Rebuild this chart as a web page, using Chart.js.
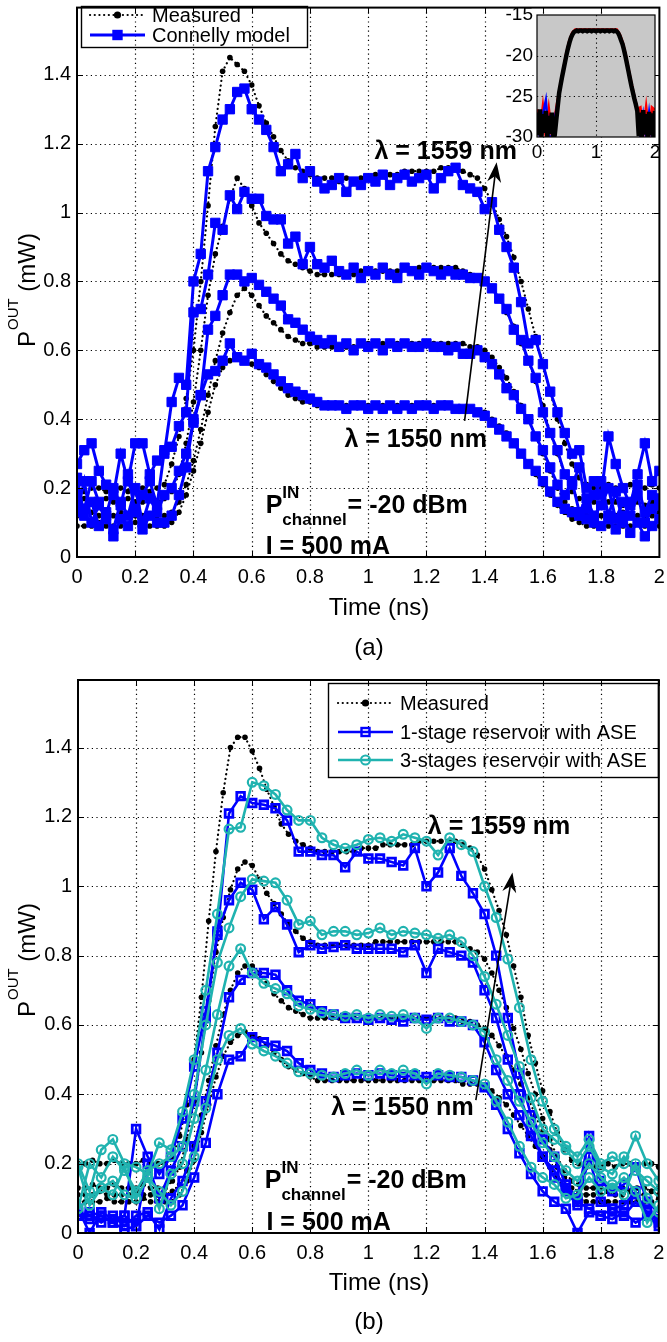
<!DOCTYPE html>
<html lang="en">
<head>
<meta charset="utf-8">
<title>Output power transients: measured vs. models</title>
<script src="https://cdn.jsdelivr.net/npm/chart.js@4.4.1/dist/chart.umd.min.js"></script>
<style>
  html, body { margin: 0; padding: 0; background: #fff; }
  #page { position: relative; width: 667px; height: 1342px; overflow: hidden; background: #fff; }
  #page canvas { position: absolute; }
</style>
</head>
<body>
<div id="page">
  <canvas id="panelA" width="667" height="665" style="left:0;top:0;"></canvas>
  <canvas id="inset" width="167" height="168" style="left:500px;top:0;"></canvas>
  <canvas id="panelB" width="667" height="677" style="left:0;top:665px;"></canvas>
</div>
<script>
const FONT = '"Liberation Sans", Arial, Helvetica, sans-serif';
Chart.defaults.font.family = FONT;
Chart.defaults.color = '#000';

// ---- axis ticks ----
const xTicks = [0, 0.2, 0.4, 0.6, 0.8, 1, 1.2, 1.4, 1.6, 1.8, 2];
const yTicks = [0, 0.2, 0.4, 0.6, 0.8, 1, 1.2, 1.4];
const insetXTicks = [0, 1, 2];
const insetYTicks = [-30, -25, -20, -15];
const Y_MAX = 1.595;

// ---- sampling times (ns) ----
const tA = [0,0.025,0.05,0.075,0.1,0.125,0.15,0.175,0.2,0.225,0.25,0.275,
  0.3,0.325,0.35,0.375,0.4,0.425,0.45,0.475,0.5,0.525,0.55,0.575,
  0.6,0.625,0.65,0.675,0.7,0.725,0.75,0.775,0.8,0.825,0.85,0.875,
  0.9,0.925,0.95,0.975,1,1.025,1.05,1.075,1.1,1.125,1.15,1.175,
  1.2,1.225,1.25,1.275,1.3,1.325,1.35,1.375,1.4,1.425,1.45,1.475,
  1.5,1.525,1.55,1.575,1.6,1.625,1.65,1.675,1.7,1.725,1.75,1.775,
  1.8,1.825,1.85,1.875,1.9,1.925,1.95,1.975,2];
const tB = [0,0.04,0.08,0.12,0.16,0.2,0.24,0.28,0.32,0.36,
  0.4,0.44,0.48,0.52,0.56,0.6,0.64,0.68,0.72,0.76,
  0.8,0.84,0.88,0.92,0.96,1,1.04,1.08,1.12,1.16,
  1.2,1.24,1.28,1.32,1.36,1.4,1.44,1.48,1.52,1.56,
  1.6,1.64,1.68,1.72,1.76,1.8,1.84,1.88,1.92,1.96,2];
const insetTime = [0,0.05,0.1,0.15,0.2,0.25,0.3,0.35,0.4,0.45,
  0.5,0.55,0.6,0.65,0.7,0.75,0.8,0.85,0.9,0.95,
  1,1.05,1.1,1.15,1.2,1.25,1.3,1.35,1.4,1.45,
  1.5,1.55,1.6,1.65,1.7,1.75,1.8,1.85,1.9,1.95,2];

// ---- panel (a): measured output power (mW) ----
const measA_1559 = [0.20,0.19,0.20,0.20,0.19,0.20,0.20,0.19,0.20,0.20,0.19,0.20,
  0.21,0.27,0.35,0.46,0.60,0.80,1.02,1.25,1.41,1.45,1.43,1.41,
  1.37,1.31,1.26,1.22,1.18,1.15,1.13,1.12,1.11,1.10,1.10,1.10,
  1.09,1.10,1.09,1.10,1.10,1.11,1.11,1.11,1.11,1.12,1.12,1.12,
  1.12,1.12,1.13,1.13,1.13,1.12,1.11,1.10,1.07,1.03,0.98,0.93,
  0.87,0.80,0.72,0.64,0.56,0.48,0.40,0.33,0.27,0.23,0.21,0.20,
  0.20,0.21,0.20,0.20,0.21,0.20,0.20,0.21,0.20];
const measA_1556 = [0.16,0.17,0.16,0.16,0.17,0.16,0.16,0.17,0.16,0.16,0.17,0.16,
  0.17,0.19,0.24,0.33,0.45,0.60,0.76,0.88,0.96,1.04,1.10,1.07,
  1.02,0.97,0.94,0.91,0.88,0.86,0.85,0.84,0.83,0.82,0.82,0.82,
  0.82,0.82,0.82,0.83,0.83,0.83,0.83,0.83,0.83,0.84,0.83,0.84,
  0.84,0.84,0.84,0.84,0.84,0.83,0.82,0.81,0.80,0.78,0.75,0.71,
  0.67,0.62,0.57,0.51,0.44,0.36,0.30,0.24,0.19,0.17,0.16,0.16,
  0.15,0.16,0.16,0.15,0.16,0.16,0.15,0.16,0.16];
const measA_1553 = [0.12,0.12,0.13,0.12,0.12,0.12,0.13,0.12,0.12,0.12,0.12,0.12,
  0.12,0.13,0.16,0.21,0.28,0.37,0.47,0.57,0.65,0.71,0.76,0.78,
  0.76,0.73,0.70,0.68,0.66,0.64,0.63,0.62,0.62,0.61,0.61,0.61,
  0.61,0.61,0.61,0.62,0.62,0.62,0.62,0.62,0.62,0.62,0.62,0.62,
  0.62,0.62,0.62,0.62,0.62,0.62,0.61,0.61,0.60,0.58,0.55,0.52,
  0.48,0.44,0.40,0.35,0.30,0.25,0.20,0.16,0.14,0.13,0.12,0.12,
  0.12,0.12,0.12,0.13,0.12,0.12,0.12,0.12,0.13];
const measA_1550 = [0.09,0.09,0.09,0.10,0.09,0.09,0.09,0.09,0.10,0.09,0.09,0.09,
  0.09,0.10,0.13,0.18,0.25,0.33,0.42,0.50,0.55,0.57,0.58,0.57,
  0.56,0.55,0.53,0.51,0.49,0.47,0.46,0.45,0.45,0.44,0.44,0.44,
  0.44,0.44,0.44,0.44,0.44,0.44,0.44,0.44,0.44,0.44,0.44,0.44,
  0.44,0.44,0.44,0.44,0.43,0.43,0.43,0.42,0.42,0.40,0.38,0.36,
  0.33,0.30,0.27,0.24,0.21,0.18,0.15,0.13,0.11,0.10,0.09,0.09,
  0.09,0.09,0.09,0.09,0.09,0.10,0.09,0.09,0.09];

// ---- panel (a): Connelly model (mW) ----
const connA_1559 = [0.27,0.31,0.33,0.25,0.21,0.18,0.30,0.22,0.33,0.33,0.24,0.28,
  0.30,0.45,0.52,0.50,0.80,0.88,1.12,1.19,1.27,1.30,1.35,1.36,
  1.30,1.27,1.24,1.19,1.12,1.14,1.17,1.10,1.12,1.09,1.07,1.08,
  1.10,1.06,1.09,1.08,1.10,1.09,1.11,1.08,1.10,1.11,1.09,1.10,
  1.11,1.07,1.10,1.12,1.13,1.08,1.07,1.06,1.01,1.03,0.95,0.90,
  0.84,0.74,0.62,0.63,0.56,0.48,0.42,0.36,0.30,0.31,0.20,0.22,
  0.18,0.35,0.27,0.20,0.15,0.24,0.33,0.22,0.25];
const connA_1556 = [0.18,0.14,0.22,0.16,0.12,0.20,0.15,0.24,0.13,0.18,0.22,0.15,
  0.31,0.32,0.38,0.42,0.71,0.72,0.82,0.97,0.95,1.05,1.01,1.06,
  1.04,1.04,0.99,0.98,0.98,0.91,0.93,0.85,0.90,0.85,0.84,0.86,
  0.83,0.82,0.84,0.81,0.83,0.82,0.84,0.82,0.81,0.84,0.83,0.82,
  0.84,0.83,0.82,0.83,0.82,0.82,0.81,0.81,0.80,0.78,0.75,0.72,
  0.66,0.63,0.57,0.52,0.42,0.36,0.31,0.24,0.21,0.26,0.14,0.18,
  0.22,0.12,0.19,0.10,0.16,0.21,0.13,0.18,0.15];
const connA_1553 = [0.13,0.22,0.10,0.15,0.11,0.08,0.16,0.12,0.20,0.10,0.17,0.13,
  0.18,0.20,0.25,0.30,0.39,0.47,0.66,0.70,0.76,0.82,0.82,0.80,
  0.81,0.79,0.77,0.75,0.73,0.69,0.68,0.66,0.64,0.63,0.62,0.63,
  0.61,0.62,0.60,0.62,0.61,0.62,0.60,0.62,0.61,0.62,0.61,0.61,
  0.62,0.61,0.61,0.60,0.61,0.59,0.59,0.60,0.58,0.56,0.53,0.49,
  0.47,0.43,0.40,0.35,0.31,0.26,0.21,0.18,0.22,0.13,0.17,0.12,
  0.15,0.20,0.11,0.16,0.12,0.18,0.10,0.14,0.17];
const connA_1550 = [0.23,0.12,0.16,0.09,0.13,0.06,0.11,0.09,0.14,0.08,0.12,0.10,
  0.10,0.12,0.18,0.26,0.40,0.47,0.53,0.54,0.57,0.62,0.58,0.57,
  0.59,0.56,0.55,0.53,0.51,0.49,0.48,0.47,0.46,0.45,0.44,0.44,
  0.44,0.43,0.44,0.44,0.43,0.44,0.43,0.44,0.43,0.44,0.43,0.44,
  0.44,0.43,0.44,0.44,0.43,0.43,0.43,0.42,0.41,0.39,0.37,0.35,
  0.33,0.30,0.27,0.25,0.22,0.19,0.16,0.14,0.13,0.12,0.11,0.10,
  0.09,0.11,0.08,0.12,0.07,0.10,0.06,0.09,0.11];

// ---- panel (b): measured output power (mW) ----
const measB_1559 = [0.20,0.20,0.21,0.20,0.20,0.21,0.20,0.20,0.20,0.21,0.20,0.20,
  0.20,0.22,0.28,0.37,0.50,0.68,0.90,1.10,1.27,1.40,1.43,1.43,
  1.39,1.34,1.28,1.23,1.18,1.15,1.13,1.12,1.11,1.10,1.10,1.10,
  1.10,1.10,1.10,1.11,1.11,1.11,1.12,1.12,1.12,1.12,1.12,1.13,
  1.13,1.13,1.13,1.13,1.13,1.12,1.11,1.09,1.05,0.99,0.93,0.86,
  0.77,0.68,0.57,0.49,0.41,0.35,0.29,0.24,0.21,0.20,0.19,0.19,
  0.19,0.20,0.19,0.20,0.20,0.19,0.20,0.20,0.19];
const measB_1556 = [0.13,0.13,0.14,0.13,0.13,0.14,0.13,0.13,0.13,0.14,0.13,0.13,
  0.13,0.15,0.19,0.27,0.38,0.52,0.67,0.81,0.91,0.99,1.05,1.07,
  1.06,1.02,0.98,0.95,0.92,0.89,0.87,0.85,0.84,0.83,0.83,0.83,
  0.83,0.83,0.83,0.83,0.83,0.84,0.84,0.84,0.84,0.84,0.84,0.84,
  0.84,0.84,0.84,0.84,0.84,0.83,0.82,0.81,0.79,0.75,0.70,0.65,
  0.59,0.53,0.46,0.40,0.33,0.27,0.22,0.18,0.15,0.14,0.13,0.13,
  0.13,0.12,0.13,0.13,0.12,0.13,0.13,0.12,0.13];
const measB_1553 = [0.11,0.11,0.11,0.12,0.11,0.11,0.11,0.11,0.12,0.11,0.11,0.11,
  0.11,0.12,0.14,0.18,0.25,0.34,0.44,0.54,0.63,0.70,0.75,0.77,
  0.77,0.75,0.72,0.69,0.67,0.65,0.64,0.63,0.62,0.62,0.62,0.62,
  0.62,0.62,0.62,0.62,0.62,0.62,0.62,0.62,0.62,0.62,0.62,0.62,
  0.62,0.62,0.62,0.62,0.62,0.61,0.61,0.60,0.59,0.57,0.54,0.51,
  0.47,0.43,0.39,0.34,0.29,0.24,0.19,0.16,0.13,0.12,0.11,0.11,
  0.11,0.12,0.11,0.11,0.12,0.11,0.11,0.12,0.11];
const measB_1550 = [0.09,0.09,0.09,0.09,0.10,0.09,0.09,0.09,0.09,0.10,0.09,0.09,
  0.09,0.09,0.11,0.15,0.21,0.29,0.37,0.45,0.51,0.55,0.57,0.58,
  0.57,0.56,0.54,0.52,0.50,0.48,0.47,0.46,0.45,0.44,0.44,0.44,
  0.44,0.44,0.44,0.44,0.44,0.44,0.44,0.44,0.44,0.44,0.44,0.44,
  0.44,0.44,0.44,0.44,0.44,0.43,0.43,0.43,0.42,0.41,0.39,0.37,
  0.34,0.31,0.28,0.25,0.22,0.19,0.16,0.13,0.11,0.10,0.09,0.09,
  0.09,0.09,0.09,0.09,0.09,0.09,0.09,0.09,0.10];

// ---- panel (b): 1-stage reservoir model with ASE (mW) ----
const stage1_1559 = [0.07,0.00,0.06,0.04,0.05,0.30,0.22,0.17,0.22,0.33,
  0.48,0.64,0.86,1.21,1.26,1.24,1.235,1.225,1.19,1.10,
  1.10,1.09,1.09,1.055,1.10,1.08,1.08,1.07,1.06,1.11,
  1.00,1.04,1.11,1.03,0.98,0.92,0.80,0.62,0.46,0.34,
  0.27,0.22,0.14,0.10,0.28,0.15,0.12,0.14,0.19,0.09,
  0.06];
const stage1_1556 = [0.05,0.06,0.05,0.03,0.05,0.02,0.20,0.10,0.18,0.25,
  0.38,0.62,0.87,0.96,1.01,0.99,0.905,0.94,0.89,0.81,
  0.83,0.82,0.825,0.83,0.82,0.82,0.82,0.82,0.81,0.83,
  0.75,0.82,0.81,0.80,0.78,0.70,0.62,0.50,0.40,0.30,
  0.22,0.16,0.12,0.08,0.22,0.09,0.07,0.08,0.12,0.05,
  0.04];
const stage1_1553 = [0.05,0.05,0.03,0.05,0.02,0.05,0.06,0.01,0.10,0.15,
  0.25,0.38,0.52,0.68,0.73,0.75,0.75,0.745,0.70,0.67,
  0.66,0.64,0.63,0.62,0.62,0.615,0.62,0.615,0.61,0.62,
  0.615,0.62,0.61,0.61,0.60,0.55,0.47,0.40,0.34,0.28,
  0.22,0.18,0.13,0.09,0.07,0.05,0.07,0.05,0.09,0.06,
  0.03];
const stage1_1550 = [0.05,0.04,0.05,0.03,0.01,0.02,0.05,0.03,0.05,0.08,
  0.16,0.26,0.40,0.50,0.51,0.565,0.55,0.54,0.525,0.49,
  0.47,0.46,0.45,0.455,0.46,0.455,0.46,0.455,0.45,0.455,
  0.45,0.455,0.45,0.45,0.44,0.42,0.37,0.30,0.23,0.17,
  0.12,0.09,0.07,0.00,0.06,0.05,0.04,0.06,0.03,0.05,
  0.02];

// ---- panel (b): 3-stages reservoir model with ASE (mW) ----
const stage3_1559 = [0.20,0.12,0.24,0.27,0.20,0.19,0.17,0.26,0.24,0.35,
  0.50,0.70,0.92,1.165,1.17,1.30,1.29,1.265,1.22,1.19,
  1.19,1.14,1.12,1.11,1.12,1.135,1.14,1.13,1.15,1.14,
  1.13,1.09,1.14,1.12,1.10,1.00,0.91,0.79,0.65,0.50,
  0.38,0.30,0.25,0.22,0.27,0.20,0.22,0.20,0.28,0.20,
  0.15];
const stage3_1556 = [0.07,0.20,0.16,0.22,0.18,0.12,0.18,0.20,0.22,0.25,
  0.40,0.60,0.78,0.88,0.97,1.02,1.015,1.01,0.96,0.89,
  0.90,0.86,0.87,0.87,0.86,0.865,0.88,0.86,0.87,0.865,
  0.86,0.85,0.86,0.84,0.80,0.74,0.66,0.57,0.48,0.39,
  0.30,0.27,0.24,0.20,0.25,0.19,0.17,0.22,0.18,0.15,
  0.12];
const stage3_1553 = [0.07,0.10,0.13,0.11,0.19,0.10,0.16,0.07,0.17,0.20,
  0.33,0.47,0.63,0.77,0.82,0.75,0.72,0.705,0.69,0.655,
  0.645,0.635,0.63,0.625,0.63,0.62,0.63,0.625,0.63,0.62,
  0.59,0.62,0.62,0.61,0.60,0.58,0.50,0.44,0.38,0.32,
  0.26,0.22,0.18,0.15,0.20,0.16,0.13,0.16,0.12,0.03,
  0.08];
const stage3_1550 = [0.19,0.08,0.13,0.15,0.11,0.10,0.16,0.12,0.08,0.12,
  0.22,0.36,0.50,0.57,0.59,0.545,0.525,0.51,0.49,0.465,
  0.46,0.455,0.45,0.46,0.47,0.455,0.47,0.46,0.47,0.46,
  0.43,0.46,0.455,0.45,0.44,0.43,0.38,0.32,0.25,0.19,
  0.16,0.14,0.10,0.11,0.16,0.12,0.14,0.11,0.20,0.10,
  0.06];

// ---- inset: output power in dBm ----
const insetBlack = [-27.0,-29.8,-26.6,-30.0,-27.2,-29.5,-26.8,-30.0,-27.4,-29.6,-27.0,-30.0,
  -29.8,-28.0,-26.3,-24.6,-23.6,-22.6,-21.7,-20.8,-19.9,-19.1,-18.4,-17.8,
  -17.4,-17.1,-17.0,-16.9,-17.0,-16.9,-16.9,-17.0,-16.9,-16.9,-17.0,-16.9,
  -16.9,-17.0,-16.9,-16.9,-17.0,-16.9,-16.9,-17.0,-16.9,-16.9,-17.0,-16.9,
  -16.9,-17.0,-16.9,-16.9,-17.0,-16.9,-17.0,-17.2,-17.6,-18.1,-18.6,-19.3,
  -20.1,-21.0,-21.9,-22.8,-23.7,-24.5,-25.3,-26.0,-26.8,-29.9,-27.0,-30.0,
  -26.7,-29.7,-27.2,-30.0,-26.9,-29.8,-27.1,-30.0,-26.8];
const insetRed = [-26.6,-29.5,-26.4,-29.8,-26.7,-29.6,-27.8,-25.6,-23.5,-21.6,
  -19.7,-18.2,-17.2,-16.8,-16.8,-16.8,-16.8,-16.8,-16.8,-16.8,
  -16.8,-16.8,-16.8,-16.8,-16.8,-16.8,-16.8,-16.8,-17.4,-18.4,
  -19.9,-21.7,-23.5,-25.1,-26.6,-26.4,-29.6,-26.5,-29.8,-26.4,
  -26.7];
const insetBlue = [-27.5,-30.0,-27.2,-25.5,-29.9,-30.0,-27.8,-25.9,-23.7,-21.8,
  -19.9,-18.4,-17.4,-17.0,-16.9,-16.9,-16.9,-17.0,-16.9,-16.9,
  -17.0,-16.9,-16.9,-17.0,-16.9,-16.9,-17.0,-17.0,-17.6,-18.6,
  -20.1,-21.9,-23.7,-25.0,-26.9,-29.9,-27.3,-30.0,-27.0,-30.0,
  -27.4];

// ---- styles ----
const BLUE = '#0000ff';
const TEAL = '#20b3b0';
const BLACK = '#000000';

function pts(t, v) { return t.map((x, i) => ({ x: x, y: v[i] })); }
function fmtTick(v) { return String(Math.round(v * 10) / 10); }

function measuredSet(t, v) {
  return { label: 'Measured', data: pts(t, v), borderColor: BLACK, borderWidth: 2.2,
    borderDash: [0.1, 4.6], borderCapStyle: 'round', pointRadius: 2.8,
    pointBackgroundColor: BLACK, pointBorderColor: BLACK, pointBorderWidth: 0, order: 3 };
}
function connellySet(t, v) {
  return { label: 'Connelly model', data: pts(t, v), borderColor: BLUE, borderWidth: 3,
    pointStyle: 'rect', pointRadius: 6.6, pointBackgroundColor: BLUE, pointBorderColor: BLUE,
    pointBorderWidth: 1, order: 1 };
}
function stage1Set(t, v) {
  return { label: '1-stage reservoir with ASE', data: pts(t, v), borderColor: BLUE, borderWidth: 2.6,
    pointStyle: 'rect', pointRadius: 5.4, pointBackgroundColor: 'rgba(255,255,255,0)',
    pointBorderColor: BLUE, pointBorderWidth: 2.8, order: 2 };
}
function stage3Set(t, v) {
  return { label: '3-stages reservoir with ASE', data: pts(t, v), borderColor: TEAL, borderWidth: 2.6,
    pointStyle: 'circle', pointRadius: 4.4, pointBackgroundColor: 'rgba(255,255,255,0)',
    pointBorderColor: TEAL, pointBorderWidth: 2.2, order: 1 };
}

// ---- drawing helpers ----
function drawMarker(ctx, k, x, y) {
  ctx.save();
  ctx.setLineDash([]);
  if (k.marker === 'dot') {
    ctx.fillStyle = k.color; ctx.beginPath(); ctx.arc(x, y, k.size, 0, Math.PI * 2); ctx.fill();
  } else if (k.marker === 'rect') {
    if (k.fill) { ctx.fillStyle = k.color; ctx.fillRect(x - k.size, y - k.size, 2 * k.size, 2 * k.size); }
    else { ctx.strokeStyle = k.color; ctx.lineWidth = 2.4; ctx.strokeRect(x - k.size, y - k.size, 2 * k.size, 2 * k.size); }
  } else if (k.marker === 'circle') {
    ctx.strokeStyle = k.color; ctx.lineWidth = 2; ctx.beginPath(); ctx.arc(x, y, k.size, 0, Math.PI * 2); ctx.stroke();
  }
  ctx.restore();
}

function drawLegend(ctx, L) {
  ctx.save();
  ctx.strokeStyle = '#000'; ctx.lineWidth = 1.4;
  ctx.strokeRect(L.left + 0.5, L.top + 0.5, L.right - L.left, L.bottom - L.top);
  L.items.forEach(it => {
    const k = it.key, yl = it.baseline - 7;
    ctx.save();
    ctx.strokeStyle = k.color; ctx.lineWidth = k.width; ctx.lineCap = k.dash ? 'round' : 'butt';
    ctx.setLineDash(k.dash || []);
    ctx.beginPath(); ctx.moveTo(L.lineX0, yl); ctx.lineTo(L.lineX1, yl); ctx.stroke();
    ctx.restore();
    drawMarker(ctx, k, (L.lineX0 + L.lineX1) / 2, yl);
    ctx.fillStyle = '#000'; ctx.font = '20px ' + FONT; ctx.textAlign = 'left'; ctx.textBaseline = 'alphabetic';
    ctx.fillText(it.label, L.textX, it.baseline);
  });
  ctx.restore();
}

function drawArrow(ctx, x1, y1, x2, y2) {
  const ang = Math.atan2(y2 - y1, x2 - x1);
  const len = 20, half = 7, notch = 14;
  ctx.save();
  ctx.strokeStyle = '#000'; ctx.fillStyle = '#000'; ctx.lineWidth = 1.6;
  ctx.beginPath(); ctx.moveTo(x1, y1);
  ctx.lineTo(x2 - Math.cos(ang) * notch, y2 - Math.sin(ang) * notch); ctx.stroke();
  ctx.translate(x2, y2); ctx.rotate(ang);
  ctx.beginPath(); ctx.moveTo(0, 0); ctx.lineTo(-len, -half); ctx.lineTo(-notch, 0); ctx.lineTo(-len, half);
  ctx.closePath(); ctx.fill();
  ctx.restore();
}

// grid, frame, legend and labels of a main panel
function panelPlugin(p) {
  return {
    id: 'panelDecor',
    beforeDatasetsDraw(chart) {
      const { ctx, chartArea: a, scales: { x, y } } = chart;
      ctx.save();
      ctx.strokeStyle = '#000'; ctx.lineWidth = 1.2; ctx.setLineDash([1.2, 3.4]);
      xTicks.forEach(v => {
        if (v <= 0 || v >= 2) return;
        const px = Math.round(x.getPixelForValue(v)) + 0.5;
        ctx.beginPath(); ctx.moveTo(px, a.top); ctx.lineTo(px, a.bottom); ctx.stroke();
      });
      yTicks.forEach(v => {
        if (v <= 0) return;
        const py = Math.round(y.getPixelForValue(v)) + 0.5;
        ctx.beginPath(); ctx.moveTo(a.left, py); ctx.lineTo(a.right, py); ctx.stroke();
      });
      ctx.restore();
    },
    afterDraw(chart) {
      const { ctx, chartArea: a, scales: { x, y } } = chart;
      const X = v => x.getPixelForValue(v), Y = v => y.getPixelForValue(v);
      ctx.save();
      // inward tick marks
      ctx.strokeStyle = '#000'; ctx.lineWidth = 1;
      xTicks.forEach(v => {
        const px = Math.round(X(v)) + 0.5;
        ctx.beginPath(); ctx.moveTo(px, a.bottom); ctx.lineTo(px, a.bottom - 6);
        ctx.moveTo(px, a.top); ctx.lineTo(px, a.top + 6); ctx.stroke();
      });
      yTicks.forEach(v => {
        const py = Math.round(Y(v)) + 0.5;
        ctx.beginPath(); ctx.moveTo(a.left, py); ctx.lineTo(a.left + 6, py);
        ctx.moveTo(a.right, py); ctx.lineTo(a.right - 6, py); ctx.stroke();
      });
      // axes frame
      ctx.lineWidth = 2;
      ctx.strokeRect(a.left, a.top, a.right - a.left, a.bottom - a.top);

      drawLegend(ctx, p.legend);

      // wavelength labels and arrow
      ctx.fillStyle = '#000';
      ctx.textBaseline = 'alphabetic';
      ctx.font = 'bold 25px ' + FONT; ctx.textAlign = 'center';
      ctx.fillText('\u03bb = 1559 nm', X(p.lambdaHigh[0]), Y(p.lambdaHigh[1]));
      ctx.fillText('\u03bb = 1550 nm', X(p.lambdaLow[0]), Y(p.lambdaLow[1]));
      drawArrow(ctx, X(p.arrow[0]), Y(p.arrow[1]), X(p.arrow[2]), Y(p.arrow[3]));

      // operating conditions
      ctx.textAlign = 'left';
      const px = X(p.pin[0]), py = Y(p.pin[1]);
      ctx.font = 'bold 25px ' + FONT;
      ctx.fillText('P', px, py);
      const pw = ctx.measureText('P').width;
      ctx.font = 'bold 17px ' + FONT;
      ctx.fillText('IN', px + pw, py - 15);
      ctx.fillText('channel', px + pw, py + 12);
      const cw = ctx.measureText('channel').width;
      ctx.font = 'bold 25px ' + FONT;
      ctx.fillText('= -20 dBm', px + pw + cw + 1, py);
      ctx.fillText('I = 500 mA', X(p.current[0]), Y(p.current[1]));

      // axis titles and panel tag
      ctx.font = '24px ' + FONT; ctx.textAlign = 'center'; ctx.textBaseline = 'middle';
      ctx.fillText('Time (ns)', p.xTitleX, p.xTitleY);
      ctx.fillText(p.tag, p.tagX, p.tagY);

      ctx.translate(35, p.yTitleBottom); ctx.rotate(-Math.PI / 2);
      ctx.textAlign = 'left'; ctx.textBaseline = 'alphabetic';
      ctx.font = '24px ' + FONT;
      ctx.fillText('P', 0, 0);
      let w = ctx.measureText('P').width + 1;
      ctx.font = '15px ' + FONT;
      ctx.fillText('OUT', w, -17);
      w += ctx.measureText('OUT').width;
      ctx.font = '24px ' + FONT;
      ctx.fillText(' (mW)', w, 0);
      ctx.restore();
    }
  };
}

function mainOptions(o) {
  return {
    responsive: false, animation: false, events: [],
    layout: { padding: { top: o.padTop, right: 7, left: 0, bottom: 0 } },
    plugins: { legend: { display: false }, tooltip: { enabled: false } },
    scales: {
      x: {
        type: 'linear', min: 0, max: 2,
        grid: { display: false, drawTicks: false }, border: { display: false },
        ticks: { font: { size: 20 }, padding: 8, maxRotation: 0, autoSkip: false, callback: fmtTick },
        afterBuildTicks: s => { s.ticks = xTicks.map(v => ({ value: v })); },
        afterFit: s => { s.height = o.xAxisHeight; s.paddingLeft = 0; s.paddingRight = 0; }
      },
      y: {
        type: 'linear', min: 0, max: Y_MAX,
        grid: { display: false, drawTicks: false }, border: { display: false },
        ticks: { font: { size: 20 }, padding: 6, autoSkip: false, callback: fmtTick },
        afterBuildTicks: s => { s.ticks = yTicks.map(v => ({ value: v })); },
        afterFit: s => { s.width = o.yAxisWidth; s.paddingTop = 0; s.paddingBottom = 0; }
      }
    }
  };
}

const keyMeasured = { color: BLACK, width: 2.2, dash: [0.1, 4.6], marker: 'dot', size: 3.6 };
const keyConnelly = { color: BLUE, width: 3, marker: 'rect', size: 5.2, fill: true };
const keyStage1 = { color: BLUE, width: 2.6, marker: 'rect', size: 4 };
const keyStage3 = { color: TEAL, width: 2.6, marker: 'circle', size: 4.5 };

// ---- panel (a) ----
new Chart(document.getElementById('panelA'), {
  type: 'line',
  data: { datasets: [
    measuredSet(tA, measA_1559), measuredSet(tA, measA_1556), measuredSet(tA, measA_1553), measuredSet(tA, measA_1550),
    connellySet(tA, connA_1559), connellySet(tA, connA_1556), connellySet(tA, connA_1553), connellySet(tA, connA_1550)
  ] },
  options: mainOptions({ padTop: 4, xAxisHeight: 108, yAxisWidth: 77 }),
  plugins: [panelPlugin({
    legend: { left: 81, top: 6, right: 307, bottom: 47, lineX0: 90, lineX1: 145, textX: 152,
      items: [ { label: 'Measured', baseline: 22, key: keyMeasured },
               { label: 'Connelly model', baseline: 42, key: keyConnelly } ] },
    lambdaHigh: [1.266, 1.155], lambdaLow: [1.163, 0.318],
    arrow: [1.331, 0.395, 1.441, 1.146],
    pin: [0.648, 0.127], current: [0.648, 0.009],
    xTitleX: 379, xTitleY: 608, tag: '(a)', tagX: 369, tagY: 648, yTitleBottom: 347
  })]
});

// ---- inset of panel (a) ----
new Chart(document.getElementById('inset'), {
  type: 'line',
  data: { datasets: [
    { data: pts(insetTime, insetRed), borderColor: '#ff0000', borderWidth: 3, pointRadius: 0, order: 3 },
    { data: pts(insetTime, insetBlue), borderColor: BLUE, borderWidth: 2.5, pointRadius: 0, order: 2 },
    { data: pts(tA, insetBlack), borderColor: BLACK, borderWidth: 4.5, pointRadius: 0, order: 1 }
  ] },
  options: {
    responsive: false, animation: false, events: [],
    layout: { padding: { top: 15, right: 12, left: 0, bottom: 0 } },
    plugins: { legend: { display: false }, tooltip: { enabled: false } },
    scales: {
      x: {
        type: 'linear', min: 0, max: 2,
        grid: { display: false, drawTicks: false }, border: { display: false },
        ticks: { font: { size: 19 }, padding: 4, maxRotation: 0, autoSkip: false, callback: v => String(v) },
        afterBuildTicks: s => { s.ticks = insetXTicks.map(v => ({ value: v })); },
        afterFit: s => { s.height = 31; s.paddingLeft = 0; s.paddingRight = 0; }
      },
      y: {
        type: 'linear', min: -30, max: -15,
        grid: { display: false, drawTicks: false }, border: { display: false },
        ticks: { font: { size: 19 }, padding: 4, autoSkip: false, callback: v => String(v) },
        afterBuildTicks: s => { s.ticks = insetYTicks.map(v => ({ value: v })); },
        afterFit: s => { s.width = 37; s.paddingTop = 0; s.paddingBottom = 0; }
      }
    }
  },
  plugins: [{
    id: 'insetDecor',
    beforeDatasetsDraw(chart) {
      const { ctx, chartArea: a, scales: { x, y } } = chart;
      ctx.save();
      ctx.fillStyle = '#c8c8c8';
      ctx.fillRect(a.left, a.top, a.right - a.left, a.bottom - a.top);
      ctx.strokeStyle = '#000'; ctx.lineWidth = 1.1; ctx.setLineDash([1.2, 3.4]);
      insetXTicks.forEach(v => {
        if (v <= 0 || v >= 2) return;
        const px = Math.round(x.getPixelForValue(v)) + 0.5;
        ctx.beginPath(); ctx.moveTo(px, a.top); ctx.lineTo(px, a.bottom); ctx.stroke();
      });
      insetYTicks.forEach(v => {
        if (v <= -30 || v >= -15) return;
        const py = Math.round(y.getPixelForValue(v)) + 0.5;
        ctx.beginPath(); ctx.moveTo(a.left, py); ctx.lineTo(a.right, py); ctx.stroke();
      });
      ctx.restore();
    },
    afterDraw(chart) {
      const { ctx, chartArea: a } = chart;
      ctx.save();
      ctx.strokeStyle = '#000'; ctx.lineWidth = 1.2;
      ctx.strokeRect(a.left, a.top, a.right - a.left, a.bottom - a.top);
      ctx.restore();
    }
  }]
});

// ---- panel (b) ----
new Chart(document.getElementById('panelB'), {
  type: 'line',
  data: { datasets: [
    measuredSet(tA, measB_1559), measuredSet(tA, measB_1556), measuredSet(tA, measB_1553), measuredSet(tA, measB_1550),
    stage1Set(tB, stage1_1559), stage1Set(tB, stage1_1556), stage1Set(tB, stage1_1553), stage1Set(tB, stage1_1550),
    stage3Set(tB, stage3_1559), stage3Set(tB, stage3_1556), stage3Set(tB, stage3_1553), stage3Set(tB, stage3_1550)
  ] },
  options: mainOptions({ padTop: 15, xAxisHeight: 109, yAxisWidth: 78 }),
  plugins: [panelPlugin({
    legend: { left: 328, top: 18, right: 658, bottom: 112, lineX0: 338, lineX1: 393, textX: 400,
      items: [ { label: 'Measured', baseline: 45, key: keyMeasured },
               { label: '1-stage reservoir with ASE', baseline: 74, key: keyStage1 },
               { label: '3-stages reservoir with ASE', baseline: 102, key: keyStage3 } ] },
    lambdaHigh: [1.45, 1.151], lambdaLow: [1.117, 0.34],
    arrow: [1.37, 0.383, 1.496, 1.04],
    pin: [0.643, 0.129], current: [0.649, 0.009],
    xTitleX: 379, xTitleY: 618, tag: '(b)', tagX: 369, tagY: 657, yTitleBottom: 352
  })]
});
</script>
</body>
</html>
